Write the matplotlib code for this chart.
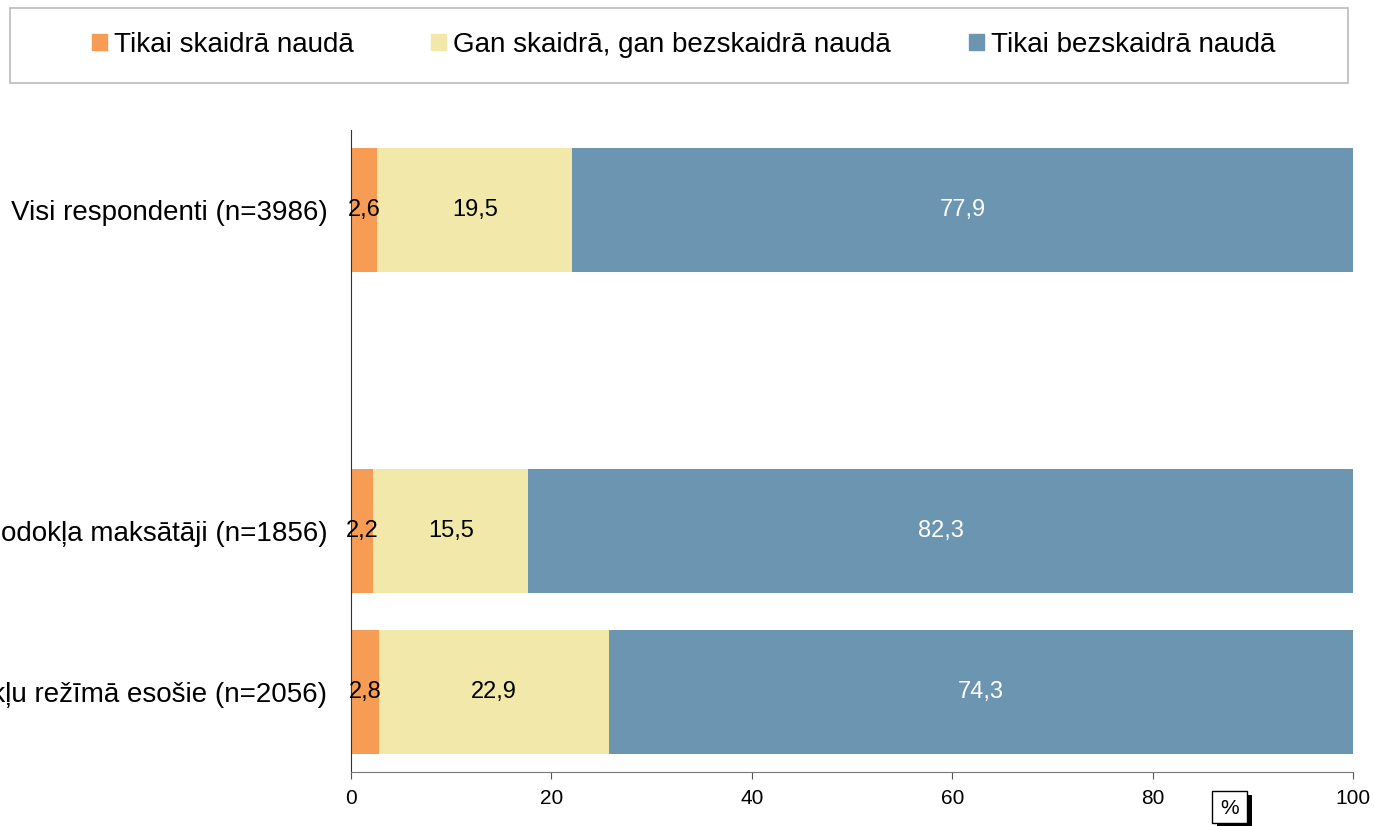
import matplotlib
matplotlib.use("Agg")
import matplotlib.pyplot as plt
from matplotlib.patches import Rectangle

plt.rcParams['font.family'] = ['Liberation Sans', 'DejaVu Sans']

# data (top to bottom, empty slot kept as gap)
categories = ["Visi respondenti (n=3986)", "",
              "Iedzīvotāju ienākuma nodokļa maksātāji (n=1856)",
              "Mikrouzņēmumu nodokļu režīmā esošie (n=2056)"]
cash_only = [2.6, None, 2.2, 2.8]
both = [19.5, None, 15.5, 22.9]
noncash_only = [77.9, None, 82.3, 74.3]
series_names = ["Tikai skaidrā naudā", "Gan skaidrā, gan bezskaidrā naudā", "Tikai bezskaidrā naudā"]
colors = ["#F79C55", "#F1E8A9", "#6C95B2"]
label_colors = ["black", "black", "white"]
xticks = [0, 20, 40, 60, 80, 100]

fig = plt.figure(figsize=(13.74, 8.26), dpi=100)
ax = fig.add_axes([0.2555, 0.0654, 0.7292, 0.7772])

ypos = list(range(len(categories)))
left = [0.0] * len(categories)
handles = []
for name, vals, col, lc in zip(series_names, [cash_only, both, noncash_only], colors, label_colors):
    for i, v in enumerate(vals):
        if v is None:
            continue
        ax.barh(ypos[i], v, left=left[i], height=0.77, color=col, edgecolor='none')
        ax.text(left[i] + v / 2, ypos[i], ("%.1f" % v).replace('.', ','),
                ha='center', va='center', fontsize=17, color=lc)
        left[i] += v
    handles.append(Rectangle((0, 0), 1, 1, color=col))

ax.set_xlim(0, 100)
ax.set_ylim(3.5, -0.5)
ax.set_xticks(xticks)
ax.set_xticklabels([str(t) for t in xticks], fontsize=15)
ax.set_yticks(ypos)
ax.set_yticklabels(categories, fontsize=20)
ax.tick_params(axis='y', length=0, pad=17)
ax.tick_params(axis='x', length=5, color='#555555', pad=7)
for s in ['top', 'right']:
    ax.spines[s].set_visible(False)
ax.spines['left'].set_color('#333333')
ax.spines['bottom'].set_color('#777777')

# legend box
fig.patches.append(Rectangle((0.0073, 0.8995), 0.9737, 0.0908, transform=fig.transFigure,
                             facecolor='white', edgecolor='#BBBBBB', linewidth=1.2))
fig.legend(handles, series_names, loc='center', bbox_to_anchor=(0.4975, 0.9455), ncol=3,
           frameon=False, fontsize=20, handlelength=0.54, handleheight=0.54,
           handletextpad=0.25, columnspacing=2.8)

# "%" box with shadow
fig.patches.append(Rectangle((1217 / 1374, 1 - 827 / 826), 35 / 1374, 32 / 826,
                             transform=fig.transFigure, facecolor='black', edgecolor='none', clip_on=False))
fig.patches.append(Rectangle((1212 / 1374, 1 - 823 / 826), 35 / 1374, 32 / 826,
                             transform=fig.transFigure, facecolor='white', edgecolor='black', linewidth=1))
fig.text(1229.5 / 1374, 1 - 808 / 826, "%", ha='center', va='center', fontsize=15)

fig.savefig("out.png", dpi=100)
